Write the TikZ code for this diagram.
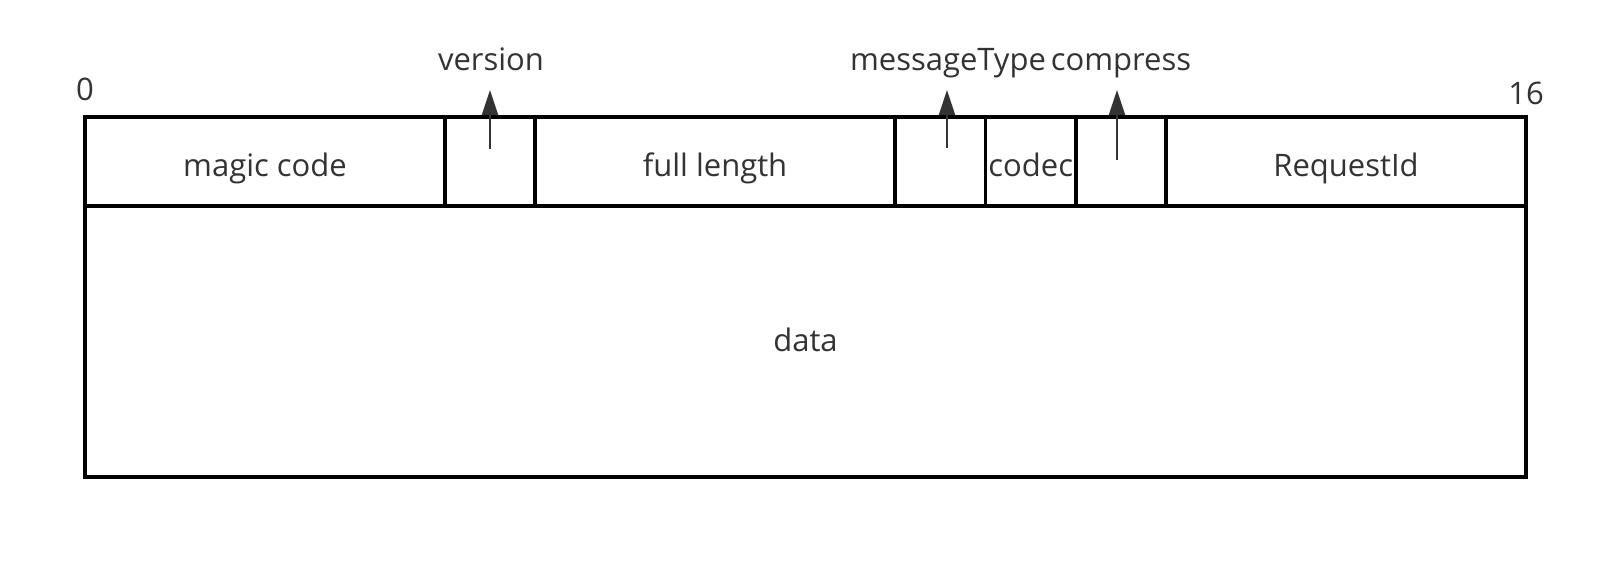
\documentclass[tikz,border=0pt]{standalone}
\usepackage{fontspec}
\setmainfont{Open Sans}
\usetikzlibrary{arrows.meta}
\definecolor{txt}{HTML}{333333}
\tikzset{
  cell/.style={draw=black, line width=3.3pt, anchor=north west, inner sep=0pt, outer sep=0pt,
    minimum height=89pt, text height=30pt, text depth=0pt, text=txt,
    font=\fontsize{31pt}{36pt}\selectfont},
  lbl/.style={anchor=base, inner sep=0pt, text=txt, font=\fontsize{31pt}{36pt}\selectfont},
  ptr/.style={draw=txt, line width=2pt, -{Triangle[length=25pt,width=16pt]}}
}
\begin{document}
\begin{tikzpicture}[x=1pt,y=-1pt]
\useasboundingbox[fill=white] (0,0) rectangle (1608,561);
% header row cells
\node[cell, minimum width=360pt] (magic) at (85,117) {magic code};
\node[cell, minimum width=90pt] (version) at (445,117) {};
\node[cell, minimum width=360pt] (full) at (535,117) {full length};
\node[cell, minimum width=90.5pt] (mtype) at (895,117) {};
\node[cell, minimum width=90.5pt] (codec) at (985.5,117) {codec};
\node[cell, minimum width=90pt] (compress) at (1076,117) {};
\node[cell, minimum width=360pt] (reqid) at (1166,117) {RequestId};
% data
\node[cell, minimum width=1441pt, minimum height=271pt, text height=19pt] (data) at (85,206) {data};
% labels
\node[lbl] (l0) at (85,101) {0};
\node[lbl] (l16) at (1526,105) {16};
\node[lbl] (lver) at (491,71) {version};
\node[lbl] (lmt) at (948,71) {messageType};
\node[lbl] (lcp) at (1121,71) {compress};
% pointers
\coordinate (v0) at (490,149);
\coordinate (v1) at (490,90);
\coordinate (m0) at (947,148);
\coordinate (m1) at (947,90);
\coordinate (c0) at (1117,160);
\coordinate (c1) at (1117,90);
\draw[ptr] (v0) -- (v1);
\draw[ptr] (m0) -- (m1);
\draw[ptr] (c0) -- (c1);
\end{tikzpicture}
\end{document}
